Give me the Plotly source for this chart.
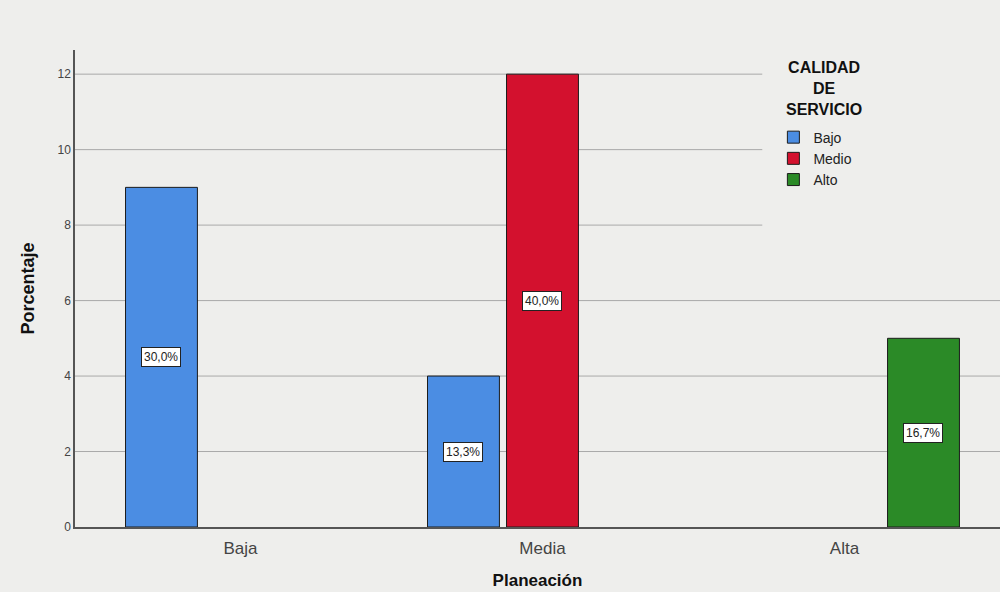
import plotly.graph_objects as go

categories = ["Baja", "Media", "Alta"]
series_names = ["Bajo", "Medio", "Alto"]
bajo_vals = [9, 4, None]
medio_vals = [None, 12, None]
alto_vals = [None, None, 5]
bajo_labels = ["30,0%", "13,3%", None]
medio_labels = [None, "40,0%", None]
alto_labels = [None, None, "16,7%"]
y_ticks = [0, 2, 4, 6, 8, 10, 12]
legend_title = "CALIDAD<br>DE<br>SERVICIO"

colors = ["#4b8de3", "#d3112e", "#2b8a27"]
BG = "#eeeeec"
FONT = "Liberation Sans, Arial"

L, R, T, B = 75, 0, 50, 65
W, H = 1000, 592
plot_w = W - L - R
xr = [-0.548, 2.515]
yr = [0, 12.64]
cat_px = plot_w / (xr[1] - xr[0])
bargap = 0.215
slot_px = cat_px * (1 - bargap) / 3
legend_left = 0.743  # paper fraction where the legend block starts
legend_bottom_val = 7.5  # gridlines above this stop at the legend block

fig = go.Figure()
vals_all = [bajo_vals, medio_vals, alto_vals]
labels_all = [bajo_labels, medio_labels, alto_labels]
for i, (name, vals) in enumerate(zip(series_names, vals_all)):
    fig.add_trace(go.Bar(
        x=categories, y=vals, name=name,
        marker=dict(color=colors[i], line=dict(color="#1c1c1c", width=1)),
        hoverinfo="skip",
    ))

annotations = []
for i, (vals, labs) in enumerate(zip(vals_all, labels_all)):
    for c, v, lab in zip(categories, vals, labs):
        if v is None:
            continue
        annotations.append(dict(
            x=c, y=v / 2, xref="x", yref="y", text=lab, showarrow=False,
            xshift=(i - 1) * slot_px,
            bgcolor="white", bordercolor="#222", borderwidth=1, borderpad=2,
            font=dict(family=FONT, size=12, color="#222"),
        ))
annotations.append(dict(
    x=0.810, y=0.985, xref="paper", yref="paper", xanchor="center", yanchor="top",
    text="<b>" + legend_title + "</b>", showarrow=False, align="center",
    font=dict(family=FONT, size=16, color="#111"),
))

shapes = []
for t in y_ticks[1:]:
    shapes.append(dict(
        type="line", xref="paper", yref="y", x0=0,
        x1=legend_left if t > legend_bottom_val else 1.0,
        y0=t, y1=t, line=dict(color="#a9a9a9", width=1), layer="below",
    ))

fig.update_layout(
    width=W, height=H,
    margin=dict(l=L, r=R, t=T, b=B),
    paper_bgcolor=BG, plot_bgcolor=BG,
    barmode="group", bargap=bargap, bargroupgap=0.09,
    font=dict(family=FONT, color="#333"),
    showlegend=True,
    legend=dict(
        x=0.755, y=0.85, xanchor="left", yanchor="top",
        bgcolor="rgba(0,0,0,0)",
        font=dict(size=14, color="#222"),
        itemwidth=30, tracegroupgap=0,
    ),
    annotations=annotations,
    shapes=shapes,
)
fig.update_xaxes(
    type="category", categoryorder="array", categoryarray=categories,
    range=xr, showline=True, linecolor="#555", linewidth=1.5,
    showgrid=False, ticks="outside", ticklen=5, tickcolor="rgba(0,0,0,0)",
    tickfont=dict(size=17, color="#444"),
    title=dict(text="<b>Planeación</b>", font=dict(size=17, color="#111"), standoff=17),
)
fig.update_yaxes(
    range=yr, tickvals=y_ticks, showline=True, linecolor="#555", linewidth=1.5,
    showgrid=False, zeroline=False,
    tickfont=dict(size=12, color="#444"),
    title=dict(text="<b>Porcentaje</b>", font=dict(size=18, color="#111"), standoff=18),
)

fig.write_html("out.html")
